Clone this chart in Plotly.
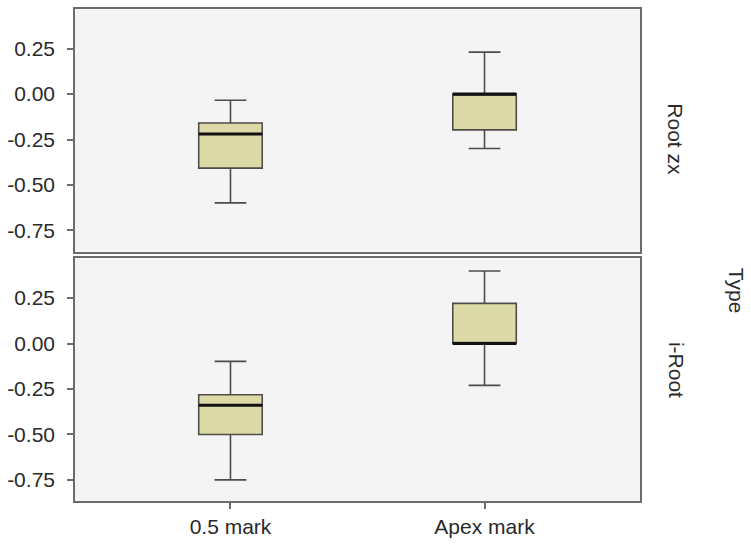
import plotly.graph_objects as go

categories = ["0.5 mark", "Apex mark"]

# Panel "Root zx"
rootzx_lower = [-0.598, -0.299]
rootzx_q1 = [-0.407, -0.197]
rootzx_median = [-0.219, 0.0]
rootzx_q3 = [-0.159, 0.0]
rootzx_upper = [-0.034, 0.231]

# Panel "i-Root"
iroot_lower = [-0.75, -0.23]
iroot_q1 = [-0.50, 0.0]
iroot_median = [-0.339, 0.0]
iroot_q3 = [-0.282, 0.221]
iroot_upper = [-0.098, 0.399]

tick_vals = [-0.75, -0.5, -0.25, 0.0, 0.25]
tick_text = ["-0.75", "-0.50", "-0.25", "0.00", "0.25"]
panel_labels = ["Root zx", "i-Root"]
facet_title = "Type"

FONT = "Liberation Sans, Arial, sans-serif"
FS = 21
TXT = "#2a2a2a"
BOX_FILL = "#dcdba8"
BOX_LINE = "#4f4b48"
FRAME = "#6f6b68"

fig = go.Figure()

def add_panel(xa, ya, lo, q1, med, q3, up):
    fig.add_trace(go.Box(
        x=categories, q1=q1, median=med, q3=q3, lowerfence=lo, upperfence=up,
        xaxis=xa, yaxis=ya, width=0.25, whiskerwidth=0.5,
        fillcolor=BOX_FILL, line=dict(color=BOX_LINE, width=1.6),
        boxpoints=False, hoverinfo="skip", showlegend=False))
    fig.add_trace(go.Box(
        x=categories, q1=med, median=med, q3=med, lowerfence=med, upperfence=med,
        xaxis=xa, yaxis=ya, width=0.25, whiskerwidth=0.96,
        fillcolor="rgba(0,0,0,0)", line=dict(color="#111111", width=3),
        boxpoints=False, hoverinfo="skip", showlegend=False))

add_panel("x", "y", rootzx_lower, rootzx_q1, rootzx_median, rootzx_q3, rootzx_upper)
add_panel("x2", "y2", iroot_lower, iroot_q1, iroot_median, iroot_q3, iroot_upper)

yrange = [-0.866, 0.468]
xrange = [-0.612, 1.612]

common_y = dict(range=yrange, tickvals=tick_vals, ticktext=tick_text,
                ticks="outside", ticklen=6, tickwidth=1.5, tickcolor=FRAME,
                showline=True, linecolor=FRAME, linewidth=1.6, mirror=True,
                showgrid=False, zeroline=False, ticklabelstandoff=8,
                tickfont=dict(family=FONT, size=FS, color=TXT))

fig.update_layout(
    width=751, height=545,
    margin=dict(l=73, r=111, t=7, b=43),
    paper_bgcolor="white", plot_bgcolor="#f4f4f4",
    boxmode="overlay",
    xaxis=dict(domain=[0, 1], anchor="y", type="category",
               categoryorder="array", categoryarray=categories,
               range=xrange, showticklabels=False, ticks="",
               showline=True, linecolor=FRAME, linewidth=1.6, mirror=True,
               showgrid=False, zeroline=False),
    yaxis=dict(domain=[0.507, 1.0], anchor="x", **common_y),
    xaxis2=dict(domain=[0, 1], anchor="y2", type="category",
                categoryorder="array", categoryarray=categories,
                range=xrange, ticks="outside", ticklen=6, tickwidth=1.5,
                tickcolor=FRAME,
                showline=True, linecolor=FRAME, linewidth=1.6, mirror=True,
                showgrid=False, zeroline=False,
                tickfont=dict(family=FONT, size=FS, color=TXT)),
    yaxis2=dict(domain=[0.0, 0.493], anchor="x2", **common_y),
    font=dict(family=FONT, size=FS, color=TXT),
)

ann_font = dict(family=FONT, size=FS, color=TXT)
fig.add_annotation(text=panel_labels[0], xref="paper", yref="paper",
                   x=1.0635, y=0.7354, textangle=90, showarrow=False,
                   xanchor="center", yanchor="middle", font=ann_font)
fig.add_annotation(text=panel_labels[1], xref="paper", yref="paper",
                   x=1.0635, y=0.2667, textangle=90, showarrow=False,
                   xanchor="center", yanchor="middle", font=ann_font)
fig.add_annotation(text=facet_title, xref="paper", yref="paper",
                   x=1.171, y=0.428, textangle=90, showarrow=False,
                   xanchor="center", yanchor="middle", font=ann_font)

fig.write_html("out.html",
               config={"displayModeBar": False},
               post_script="document.body.style.margin='0';document.body.style.padding='0';")
